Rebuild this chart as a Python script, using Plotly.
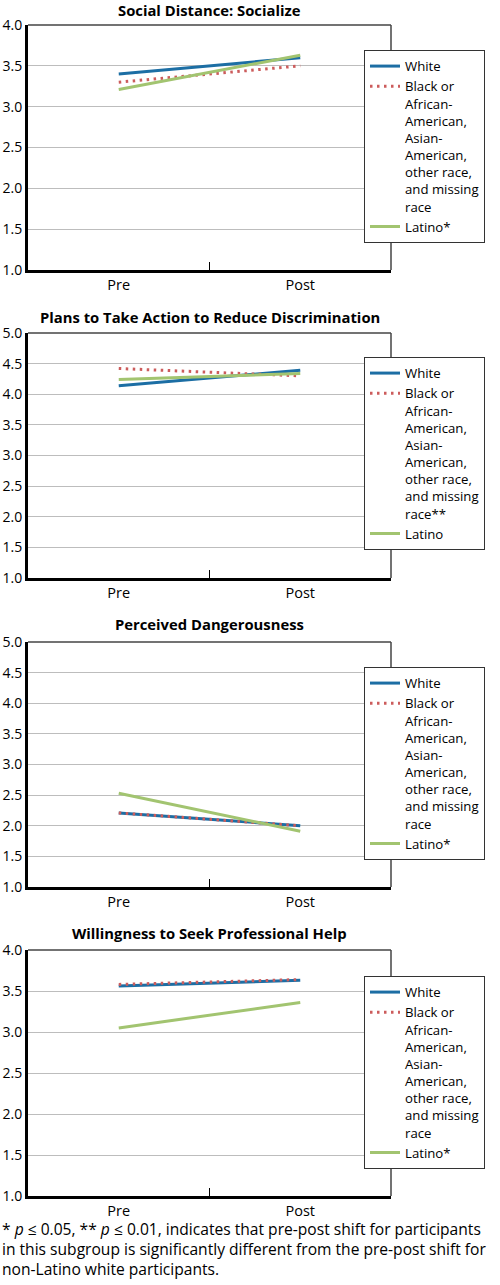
import plotly.graph_objects as go

# ---------------- data ----------------
categories = ["Pre", "Post"]

panel_titles = [
    "Social Distance: Socialize",
    "Plans to Take Action to Reduce Discrimination",
    "Perceived Dangerousness",
    "Willingness to Seek Professional Help",
]

socialize_white = [3.40, 3.60]
socialize_black = [3.30, 3.50]
socialize_latino = [3.21, 3.63]

action_white = [4.14, 4.39]
action_black = [4.42, 4.30]
action_latino = [4.24, 4.34]

danger_white = [2.21, 2.00]
danger_black = [2.21, 2.00]
danger_latino = [2.53, 1.91]

help_white = [3.56, 3.63]
help_black = [3.58, 3.64]
help_latino = [3.05, 3.36]

y_ranges = [[1.0, 4.0], [1.0, 5.0], [1.0, 5.0], [1.0, 4.0]]

black_label = ("Black or<br>African-<br>American,<br>Asian-<br>American,"
               "<br>other race,<br>and missing<br>race")
white_names = ["White", "White", "White", "White"]
black_names = [black_label, black_label + "**", black_label, black_label]
latino_names = ["Latino*", "Latino", "Latino*", "Latino*"]

footnote_lines = [
    "* <i>p</i> ≤ 0.05, ** <i>p</i> ≤ 0.01, indicates that pre-post shift for participants",
    "in this subgroup is significantly different from the pre-post shift for",
    "non-Latino white participants.",
]

# ---------------- layout geometry (pixels) ----------------
W, H = 500, 1285
FONT = "Open Sans"
plot_left, plot_right = 28, 391
panel_px = [(25, 270), (333, 578), (642, 887), (950, 1196)]
title_px = [9.8, 317, 624, 933]
legend_top_px = [50, 357, 667, 976]
foot_px = [1229, 1249, 1269]

c_white = "#1c6ea4"
c_black = "#cc5c5c"
c_latino = "#a2c470"

series = [
    (socialize_white, socialize_black, socialize_latino),
    (action_white, action_black, action_latino),
    (danger_white, danger_black, danger_latino),
    (help_white, help_black, help_latino),
]

fig = go.Figure()
annotations = []
shapes = []

for i, (wv, bv, lv) in enumerate(series):
    n = "" if i == 0 else str(i + 1)
    xa, ya = "x" + n, "y" + n
    lg = "legend" if i == 0 else "legend" + str(i + 1)
    fig.add_trace(go.Scatter(x=categories, y=wv, mode="lines", name=white_names[i],
                             line=dict(color=c_white, width=3), xaxis=xa, yaxis=ya, legend=lg))
    fig.add_trace(go.Scatter(x=categories, y=bv, mode="lines", name=black_names[i],
                             line=dict(color=c_black, width=3, dash="2.5px,4.5px"),
                             xaxis=xa, yaxis=ya, legend=lg))
    fig.add_trace(go.Scatter(x=categories, y=lv, mode="lines", name=latino_names[i],
                             line=dict(color=c_latino, width=3), xaxis=xa, yaxis=ya, legend=lg))

    top, bot = panel_px[i]
    dom_y = [1 - bot / H, 1 - top / H]
    dom_x = [plot_left / W, plot_right / W]
    xkey = "xaxis" + n
    ykey = "yaxis" + n
    fig.layout[xkey] = dict(
        domain=dom_x, anchor=ya, type="category", range=[-0.5, 1.5],
        showline=True, linewidth=3, linecolor="black", automargin=False,
        ticks="inside", tickson="boundaries", ticklen=8, tickwidth=1, tickcolor="black",
        showgrid=False, zeroline=False,
        tickfont=dict(family=FONT, size=14.5, color="black"),
    )
    fig.layout[ykey] = dict(
        domain=dom_y, anchor=xa, range=y_ranges[i], dtick=0.5, tick0=1.0,
        tickformat=".1f", showline=True, linewidth=3, linecolor="black",
        showgrid=True, gridcolor="#bdbdbd", gridwidth=1, zeroline=False,
        ticks="", ticklabelstandoff=0, automargin=False,
        tickfont=dict(family=FONT, size=14, color="black"),
    )
    # thin top and right frame
    shapes.append(dict(type="line", xref=xa + " domain", yref=ya + " domain",
                       x0=0, x1=1, y0=1, y1=1, line=dict(color="#444", width=1.5)))
    shapes.append(dict(type="line", xref=xa + " domain", yref=ya + " domain",
                       x0=1, x1=1, y0=0, y1=1, line=dict(color="#444", width=1.5)))

    annotations.append(dict(
        text="<b>" + panel_titles[i] + "</b>", xref="paper", yref="paper",
        x=(plot_left + plot_right) / 2 / W, y=1 - title_px[i] / H,
        xanchor="center", yanchor="middle", showarrow=False, borderpad=0,
        font=dict(family=FONT, size=14.8, color="black"),
    ))

    fig.layout[lg] = dict(
        x=364 / W, y=1 - legend_top_px[i] / H, xanchor="left", yanchor="top",
        xref="paper", yref="paper",
        bgcolor="white", bordercolor="#333", borderwidth=1,
        font=dict(family=FONT, size=13.2, color="black"),
        valign="top", itemwidth=30, tracegroupgap=0,
    )

for j, line in enumerate(footnote_lines):
    annotations.append(dict(
        text=line, xref="paper", yref="paper", x=0, y=1 - foot_px[j] / H,
        xanchor="left", yanchor="middle", showarrow=False,
        font=dict(family=FONT, size=15.6, color="black"), align="left",
    ))

fig.update_layout(
    width=W, height=H, margin=dict(l=0, r=0, t=0, b=0, autoexpand=False),
    paper_bgcolor="white", plot_bgcolor="white",
    annotations=annotations, shapes=shapes, showlegend=True,
)

fig.write_html("out.html", config={"displayModeBar": False},
               post_script="document.body.style.margin='0px';")
